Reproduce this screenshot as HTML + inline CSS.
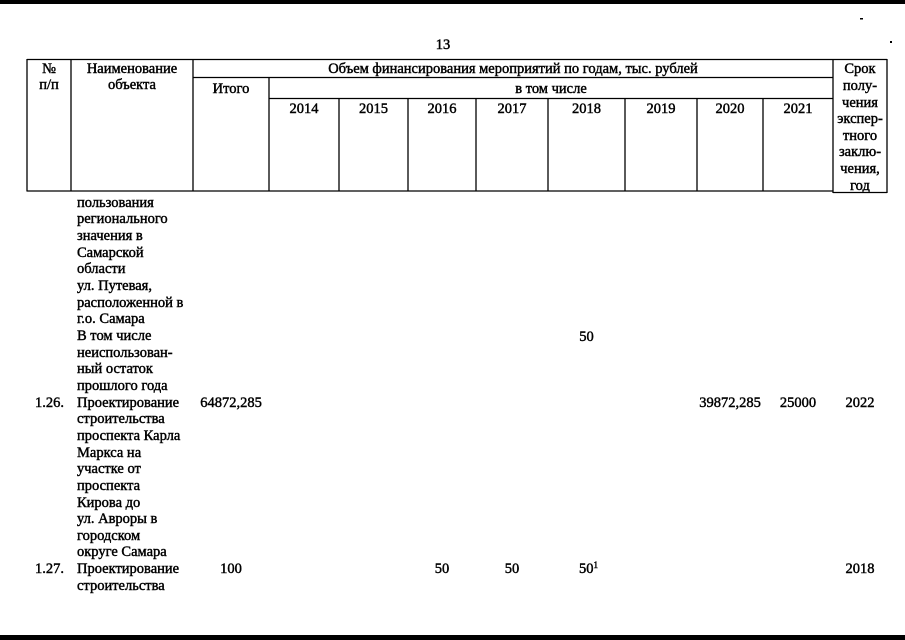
<!DOCTYPE html>
<html>
<head>
<meta charset="utf-8">
<style>
  html, body { margin:0; padding:0; background:#fff; }
  #page { position:relative; width:905px; height:640px; overflow:hidden; background:#fff;
    font-family:"Liberation Serif","Noto Serif CJK SC",serif; font-size:14.5px; color:#000;
    -webkit-text-stroke:0.45px #000; }
  .t { position:absolute; white-space:nowrap; line-height:16.65px; height:16.65px; }
  .c { text-align:center; }
  .blk { position:absolute; white-space:nowrap; line-height:16.65px; }
  sup { font-size:9px; vertical-align:top; line-height:10px; position:relative; top:-1px; }
  svg { position:absolute; left:0; top:0; }
</style>
</head>
<body>
<div id="page">
<svg width="905" height="640" viewBox="0 0 905 640">
  <rect x="0" y="0" width="905" height="4" fill="#000"/>
  <rect x="0" y="635" width="905" height="5" fill="#000"/>
  <rect x="860" y="18" width="3" height="1.5" fill="#000"/>
  <rect x="890" y="41" width="2" height="2" fill="#000"/>
  <g stroke="#000" stroke-width="1.3" fill="none">
    <line x1="27" y1="59.5" x2="887" y2="59.5"/>
    <line x1="27" y1="191" x2="833" y2="191"/>
    <line x1="833" y1="192.5" x2="887" y2="192.5"/>
    <line x1="193" y1="77.5" x2="833" y2="77.5"/>
    <line x1="269" y1="98.5" x2="833" y2="98.5"/>
    <line x1="27" y1="59" x2="27" y2="191.5"/>
    <line x1="71" y1="59" x2="71" y2="191.5"/>
    <line x1="193" y1="59" x2="193" y2="191.5"/>
    <line x1="269" y1="77" x2="269" y2="191.5"/>
    <line x1="339" y1="98" x2="339" y2="191.5"/>
    <line x1="408" y1="98" x2="408" y2="191.5"/>
    <line x1="476" y1="98" x2="476" y2="191.5"/>
    <line x1="548" y1="98" x2="548" y2="191.5"/>
    <line x1="625" y1="98" x2="625" y2="191.5"/>
    <line x1="697" y1="98" x2="697" y2="191.5"/>
    <line x1="763" y1="98" x2="763" y2="191.5"/>
    <line x1="833" y1="59" x2="833" y2="193"/>
    <line x1="887" y1="59" x2="887" y2="193"/>
  </g>
</svg>

<div class="t c" style="left:423px;top:36.7px;width:40px;">13</div>

<div class="t c" style="left:27px;top:61.2px;width:44px;">№</div>
<div class="t c" style="left:27px;top:77.2px;width:44px;">п/п</div>
<div class="t c" style="left:71px;top:61.2px;width:122px;">Наименование</div>
<div class="t c" style="left:71px;top:77.2px;width:122px;">объекта</div>
<div class="t c" style="left:193px;top:61.2px;width:640px;">Объем финансирования мероприятий по годам, тыс. рублей</div>
<div class="t c" style="left:193px;top:81.2px;width:76px;">Итого</div>
<div class="t c" style="left:269px;top:81.2px;width:564px;">в том числе</div>

<div class="t c" style="left:269px;top:100.7px;width:70px;">2014</div>
<div class="t c" style="left:339px;top:100.7px;width:69px;">2015</div>
<div class="t c" style="left:408px;top:100.7px;width:68px;">2016</div>
<div class="t c" style="left:476px;top:100.7px;width:72px;">2017</div>
<div class="t c" style="left:548px;top:100.7px;width:77px;">2018</div>
<div class="t c" style="left:625px;top:100.7px;width:72px;">2019</div>
<div class="t c" style="left:697px;top:100.7px;width:66px;">2020</div>
<div class="t c" style="left:763px;top:100.7px;width:70px;">2021</div>

<div class="blk c" style="left:820px;top:61.2px;width:80px;">Срок<br>полу-<br>чения<br>экспер-<br>тного<br>заклю-<br>чения,<br>год</div>

<div class="blk" style="left:77px;top:194.7px;">пользования<br>регионального<br>значения в<br>Самарской<br>области<br>ул. Путевая,<br>расположенной в<br>г.о. Самара<br>В том числе<br>неиспользован-<br>ный остаток<br>прошлого года<br>Проектирование<br>строительства<br>проспекта Карла<br>Маркса на<br>участке от<br>проспекта<br>Кирова до<br>ул. Авроры в<br>городском<br>округе Самара<br>Проектирование<br>строительства</div>

<div class="t" style="left:35px;top:394.7px;">1.26.</div>
<div class="t" style="left:35px;top:560.7px;">1.27.</div>

<div class="t c" style="left:548px;top:328.7px;width:77px;">50</div>

<div class="t c" style="left:193px;top:394.7px;width:76px;">64872,285</div>
<div class="t c" style="left:697px;top:394.7px;width:66px;">39872,285</div>
<div class="t c" style="left:763px;top:394.7px;width:70px;">25000</div>
<div class="t c" style="left:833px;top:394.7px;width:54px;">2022</div>

<div class="t c" style="left:193px;top:560.7px;width:76px;">100</div>
<div class="t c" style="left:408px;top:560.7px;width:68px;">50</div>
<div class="t c" style="left:476px;top:560.7px;width:72px;">50</div>
<div class="t" style="left:579px;top:560.7px;">50<sup>1</sup></div>
<div class="t c" style="left:833px;top:560.7px;width:54px;">2018</div>

</div>
</body>
</html>
